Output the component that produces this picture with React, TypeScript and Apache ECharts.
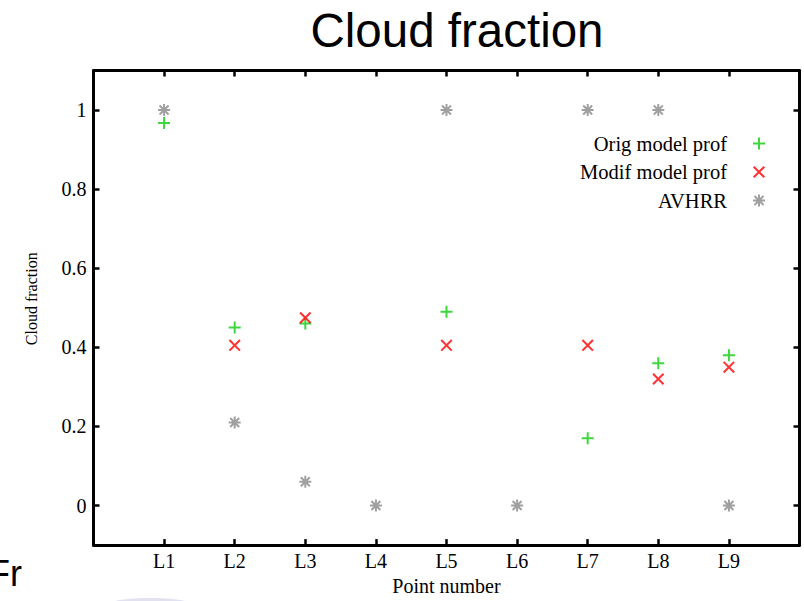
import React, { useEffect, useRef } from "react";
import * as echarts from "echarts";

const categories = ["L1", "L2", "L3", "L4", "L5", "L6", "L7", "L8", "L9"];
const origModel = [0.967, 0.45, 0.46, null, 0.49, null, 0.17, 0.36, 0.38];
const modifModel = [null, 0.405, 0.475, null, 0.405, null, 0.405, 0.32, 0.35];
const avhrr = [1, 0.21, 0.06, 0, 1, 0, 1, 1, 0];
const yTicks = [0, 0.2, 0.4, 0.6, 0.8, 1];
const xTicks = [1, 2, 3, 4, 5, 6, 7, 8, 9];

const plusPath = "path://M-1,-6L1,-6L1,-1L6,-1L6,1L1,1L1,6L-1,6L-1,1L-6,1L-6,-1L-1,-1Z";
const crossPath = "path://M-5.7,-4.3L-4.3,-5.7L5.7,4.3L4.3,5.7ZM4.3,-5.7L5.7,-4.3L-4.3,5.7L-5.7,4.3Z";
const starPath =
  "path://M-1,-6L1,-6L1,-1L6,-1L6,1L1,1L1,6L-1,6L-1,1L-6,1L-6,-1L-1,-1ZM-5.2,-3.8L-3.8,-5.2L5.2,3.8L3.8,5.2ZM3.8,-5.2L5.2,-3.8L-3.8,5.2L-5.2,3.8Z";

const toPoints = (vals: (number | null)[]) =>
  vals.map((v, i) => (v === null ? [i + 1, "-"] : [i + 1, v]));

export default function App() {
  const ref = useRef<HTMLDivElement>(null);
  useEffect(() => {
    if (!ref.current) return;
    const chart = echarts.init(ref.current, null, { renderer: "svg" });
    const serif = "Liberation Serif";
    const axisLine = { show: true, onZero: false, lineStyle: { color: "#000", width: 3 } };
    const tick = (vals: number[]) => ({
      show: true,
      inside: true,
      length: 6,
      customValues: vals,
      lineStyle: { color: "#000", width: 2.5 },
    });
    chart.setOption({
      animation: false,
      backgroundColor: "#fff",
      title: {
        text: "Cloud fraction",
        left: 452,
        textAlign: "center",
        top: 1,
        textStyle: { fontFamily: "Liberation Sans", fontSize: 47.5, fontWeight: "normal", color: "#000" },
      },
      grid: { left: 93.5, width: 706, top: 70.5, height: 481, containLabel: false },
      legend: {
        orient: "vertical",
        align: "right",
        right: 39,
        top: 133,
        padding: 0,
        itemGap: 7.5,
        itemWidth: 54,
        itemHeight: 12,
        textStyle: { fontFamily: serif, fontSize: 20.5, color: "#000" },
        data: ["Orig model prof", "Modif model prof", "AVHRR"],
      },
      xAxis: [
        {
          type: "value",
          position: "bottom",
          min: 0,
          max: 10,
          interval: 1,
          name: "Point number",
          nameLocation: "middle",
          nameGap: 25,
          nameTextStyle: { fontFamily: serif, fontSize: 20, color: "#000" },
          axisLine,
          axisTick: tick(xTicks),
          axisLabel: {
            customValues: xTicks,
            margin: 6,
            fontFamily: serif,
            fontSize: 20,
            color: "#000",
            formatter: (v: number) => categories[Math.round(v) - 1] ?? "",
          },
          splitLine: { show: false },
        },
        {
          type: "value",
          position: "top",
          min: 0,
          max: 10,
          interval: 1,
          axisLine,
          axisTick: tick(xTicks),
          axisLabel: { show: false },
          splitLine: { show: false },
        },
      ],
      yAxis: [
        {
          type: "value",
          position: "left",
          min: -0.1,
          max: 1.1,
          name: "Cloud fraction",
          nameLocation: "middle",
          nameGap: 54,
          nameRotate: 90,
          nameTextStyle: { fontFamily: serif, fontSize: 16, color: "#000", padding: [0, 0, 0, 18] },
          axisLine,
          axisTick: tick(yTicks),
          axisLabel: {
            customValues: yTicks,
            margin: 7,
            fontFamily: serif,
            fontSize: 20,
            color: "#000",
            formatter: (v: number) => String(Math.round(v * 10) / 10),
          },
          splitLine: { show: false },
        },
        {
          type: "value",
          position: "right",
          min: -0.1,
          max: 1.1,
          axisLine,
          axisTick: tick(yTicks),
          axisLabel: { show: false },
          splitLine: { show: false },
        },
      ],
      series: [
        {
          name: "Orig model prof",
          type: "scatter",
          symbol: plusPath,
          symbolSize: 12,
          symbolKeepAspect: true,
          itemStyle: { color: "#0ccc0c" },
          data: toPoints(origModel),
        },
        {
          name: "Modif model prof",
          type: "scatter",
          symbol: crossPath,
          symbolSize: 12,
          symbolKeepAspect: true,
          itemStyle: { color: "#ff0000" },
          data: toPoints(modifModel),
        },
        {
          name: "AVHRR",
          type: "scatter",
          symbol: starPath,
          symbolSize: 12,
          symbolKeepAspect: true,
          itemStyle: { color: "#888888" },
          data: toPoints(avhrr),
        },
      ],
      graphic: [
        {
          type: "text",
          left: -12,
          top: 555,
          style: { text: "Fr", fontFamily: "Liberation Sans", fontSize: 36, fill: "#000" },
        },
        {
          type: "ellipse",
          shape: { cx: 150, cy: 604, rx: 40, ry: 6 },
          style: { fill: "rgba(170,170,210,0.35)" },
          silent: true,
        },
      ],
    });
    return () => chart.dispose();
  }, []);
  return (
    <div
      ref={ref}
      style={{ position: "fixed", left: 0, top: 0, width: 804, height: 601 }}
    />
  );
}
